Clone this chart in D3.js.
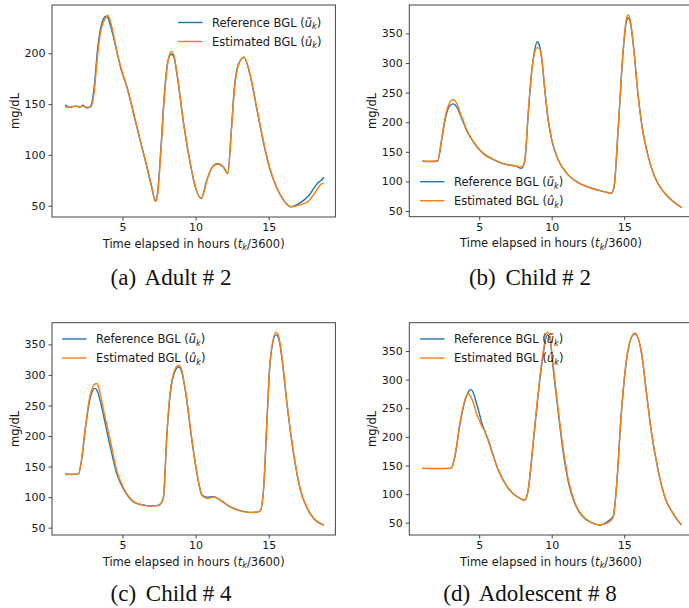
<!DOCTYPE html>
<html><head><meta charset="utf-8">
<script src="https://cdn.jsdelivr.net/npm/d3@7"></script>
<style>
html,body{margin:0;padding:0;background:#fff;}
svg{display:block;}
</style></head>
<body>
<svg id="chart" width="689" height="608"></svg>
<script>
// ---------- data ----------
const xTicks = [5, 10, 15];
const xDomain = [0.18, 19.56];

// Panel (a) Adult #2
const hoursA = [1.07,1.4,1.8,2.1,2.3,2.55,2.83,3.06,3.29,3.47,3.7,3.88,4.0,4.2,4.45,4.7,4.95,5.3,5.75,6.2,6.67,7.0,7.25,7.4,7.63,7.86,8.09,8.33,8.5,8.72,9.18,9.63,9.97,10.38,10.77,11.1,11.5,11.9,12.2,12.45,12.65,12.9,13.3,13.75,14.2,14.66,15.1,15.57,16.0,16.5,16.94,17.4,17.75,18.08,18.4,18.6,18.77];
const refA   = [149,147,148,147,149,146,148,166,203,222,234,236.5,235,226,212,196,182,167,141,115,88,68,55,63,107,159,191,199,197,180,131,92,69,57,75,87,91,88,82,126,166,188,196,177,144,111,85,67,56,49,51,55.5,60,67,73,75,78];
const estA   = [147,147,148,147.5,148,147,147,161,197,218,231,235.5,237.5,230,214,197,183,167,142,115,89,69,54,61,104,156,190,201.5,199,181,131,92,69,57.5,75,87,91.5,88,81.5,124,164,187,196.5,178,145,112,86,67,56,49,50,52,55,61,68,71.5,72];
const yTicksA = [50, 100, 150, 200];
const yDomainA = [38.9, 247.5];

// Panel (b) Child #2
const hoursB = [1.07,1.5,2.13,2.4,2.63,2.9,3.2,3.45,3.67,3.95,4.24,4.6,4.93,5.3,5.62,6.0,6.54,7.0,7.5,7.92,8.15,8.38,8.6,8.8,9.0,9.15,9.3,9.53,9.76,10.0,10.45,11.14,11.83,12.75,13.67,14.1,14.3,14.59,14.93,15.15,15.28,15.45,15.62,15.97,16.31,16.66,17.1,17.8,18.38,18.95];
const refB   = [134,133.5,134,168,202,225,231,226,214,197,181,167,156,147,141.5,137,131,128,126,122,135,213,280,318,336,330,310,254,203,170,136,111,98,88.5,82.5,80,90,190,320,370,376,365,333,243,181,142,108,80,66,56];
const estB   = [134,134,134.5,170,205,230,238,232,217,199,182,167,156,147,142,137,131,128,126,124,137,215,282,315,326,324,310,254,204,171,137,111,98,88.5,82.5,80,92,192,322,374,381,368,333,243,181,142,108,80,66,56];
const yTicksB = [50, 100, 150, 200, 250, 300, 350];
const yDomainB = [40.4, 398];

// Panel (c) Child #4
const hoursC = [1.07,1.5,1.99,2.2,2.44,2.73,2.95,3.1,3.25,3.45,3.7,4.16,4.6,5.07,5.4,5.75,6.1,6.44,6.9,7.35,7.6,7.8,8.04,8.26,8.5,8.84,9.05,9.3,9.75,10.09,10.43,10.78,11.23,11.69,12.37,13.06,13.74,14.2,14.43,14.66,14.89,15.1,15.5,15.65,15.9,16.25,16.7,17.17,17.63,18.08,18.77];
const refC   = [138,137,138,160,208,255,274,278,275,260,234,183,139,113,101,92,88.5,87,85.5,86,88.5,100,203,268,300,313,305,274,192,139,104,100,100.5,95,84,78,75,75.5,78,117,230,322,366,362,328,252,171,111,81.5,65,54];
const estC   = [137,137.5,138,161,210,260,280,285,286,272,243,194,144,115,102,93,89,87,85.5,86,89,100,205,272,303,316,308,276,194,140,103,97.5,100,95,84,77.5,75,75.5,78,117,232,324,370,366,331,254,172,112,82,65.5,54];
const yTicksC = [50, 100, 150, 200, 250, 300, 350];
const yDomainC = [38, 385.5];

// Panel (d) Adolescent #8
const hoursD = [1.07,2.0,3.05,3.32,3.67,4.01,4.24,4.43,4.65,4.82,5.0,5.16,5.4,5.62,6.31,7.0,7.69,8.15,8.38,8.72,9.07,9.41,9.69,9.85,10.1,10.45,10.8,11.14,11.6,12.06,12.75,13.32,13.9,14.24,14.47,14.8,15.16,15.5,15.74,16.2,16.54,16.89,17.34,17.8,18.38,18.95];
const refD   = [145,144.5,145,165,222,262,278,283,273,258,242,226,209,195,142,110,94,89.5,107,187,274,344,378,376,320,243,172,122,83,63,50,46,53,61,113,240,333,374,380,346,276,206,142,95,66,46];
const estD   = [145,145,145,165,224,265,276,270,255,240,230,220,209,193,143,111,94.5,89.5,108,190,278,348,383,378,325,248,178,126,85,64,50,46,50,59,112,242,336,374,381,346,276,206,142,95,66,46];
const yTicksD = [50, 100, 150, 200, 250, 300, 350];
const yDomainD = [28.5, 399.5];

const seriesNames = ["Reference BGL", "Estimated BGL"];
const seriesColors = ["#1f77b4", "#ff7f0e"];
const captions = [["(a)", "Adult # 2"], ["(b)", "Child # 2"], ["(c)", "Child # 4"], ["(d)", "Adolescent # 8"]];

// ---------- layout ----------
const panels = [
  {hours: hoursA, ref: refA, est: estA, yTicks: yTicksA, yDomain: yDomainA, cap: captions[0],
   left: 52, right: 335.4, top: 5, bottom: 217, legX: 178, legY: 22.5, capX: 171, capY: 284.5},
  {hours: hoursB, ref: refB, est: estB, yTicks: yTicksB, yDomain: yDomainB, cap: captions[1],
   left: 409.3, right: 690.3, top: 5, bottom: 216.7, legX: 420, legY: 181.7, capX: 530, capY: 284.5},
  {hours: hoursC, ref: refC, est: estC, yTicks: yTicksC, yDomain: yDomainC, cap: captions[2],
   left: 52, right: 335.4, top: 322.7, bottom: 535, legX: 62, legY: 339, capX: 171, capY: 600.5},
  {hours: hoursD, ref: refD, est: estD, yTicks: yTicksD, yDomain: yDomainD, cap: captions[3],
   left: 409.3, right: 690.3, top: 322.7, bottom: 535, legX: 420, legY: 339, capX: 530, capY: 600.5}
];

const svg = d3.select("#chart");
const SANS = "DejaVu Sans, sans-serif";
const SERIF = "Liberation Serif, Times New Roman, serif";
const TXT = "#1a1a1a";

function mathLabel(sel, pre, sym, sub, post, size) {
  sel.append("tspan").text(pre);
  sel.append("tspan").attr("font-style", "italic").text(sym);
  sel.append("tspan").attr("font-style", "italic").attr("font-size", size * 0.7).attr("dy", size * 0.25).text(sub);
  sel.append("tspan").attr("dy", -size * 0.25).text(post);
}

panels.forEach(p => {
  const g = svg.append("g");
  const x = d3.scaleLinear().domain(xDomain).range([p.left, p.right]);
  const y = d3.scaleLinear().domain(p.yDomain).range([p.bottom, p.top]);

  const cid = "clip" + Math.round(p.left) + Math.round(p.top);
  svg.append("clipPath").attr("id", cid).append("rect")
    .attr("x", p.left).attr("y", p.top).attr("width", p.right - p.left).attr("height", p.bottom - p.top);

  const line = d3.line().x((d, i) => x(p.hours[i])).y(d => y(d)).curve(d3.curveMonotoneX);
  [p.ref, p.est].forEach((vals, si) => {
    g.append("path").attr("d", line(vals)).attr("fill", "none")
      .attr("stroke", seriesColors[si]).attr("stroke-width", 1.4)
      .attr("stroke-linejoin", "round").attr("clip-path", `url(#${cid})`);
  });

  const xAxis = d3.axisBottom(x).tickValues(xTicks).tickSize(3.5).tickPadding(3).tickFormat(d3.format("d"));
  const yAxis = d3.axisLeft(y).tickValues(p.yTicks).tickSize(3.5).tickPadding(3).tickFormat(d3.format("d"));
  const gx = g.append("g").attr("transform", `translate(0,${p.bottom})`).call(xAxis);
  const gy = g.append("g").attr("transform", `translate(${p.left},0)`).call(yAxis);
  [gx, gy].forEach(a => {
    a.select(".domain").remove();
    a.selectAll("line").attr("stroke", "#333").attr("stroke-width", 0.9);
    a.selectAll("text").attr("font-family", SANS).attr("font-size", 11).attr("fill", TXT);
  });

  g.append("rect").attr("x", p.left).attr("y", p.top)
    .attr("width", p.right - p.left).attr("height", p.bottom - p.top)
    .attr("fill", "none").attr("stroke", "#444").attr("stroke-width", 1);

  const xl = g.append("text").attr("x", p.left + 141.7).attr("y", p.bottom + 30.5)
    .attr("text-anchor", "middle").attr("font-family", SANS).attr("font-size", 11.5).attr("fill", TXT);
  mathLabel(xl, "Time elapsed in hours (", "t", "k", "/3600)", 11.5);

  g.append("text").attr("transform", `translate(${p.left - 33},${(p.top + p.bottom) / 2}) rotate(-90)`)
    .attr("text-anchor", "middle").attr("font-family", SANS).attr("font-size", 11.5).attr("fill", TXT)
    .text("mg/dL");

  const syms = ["\u0169", "\u00fb"];
  seriesNames.forEach((nm, si) => {
    const ly = p.legY + si * 19;
    g.append("line").attr("x1", p.legX).attr("x2", p.legX + 24.5).attr("y1", ly).attr("y2", ly)
      .attr("stroke", seriesColors[si]).attr("stroke-width", 1.4);
    const t = g.append("text").attr("x", p.legX + 34).attr("y", ly + 4)
      .attr("font-family", SANS).attr("font-size", 11.5).attr("fill", TXT);
    mathLabel(t, nm + " (", syms[si], "k", ")", 11.5);
  });

  const c = svg.append("text").attr("x", p.capX).attr("y", p.capY).attr("text-anchor", "middle")
    .attr("font-family", SERIF).attr("font-size", 23).attr("fill", "#111");
  c.append("tspan").text(p.cap[0]);
  c.append("tspan").attr("dx", 4).text(" " + p.cap[1]);
});
</script>
</body></html>
